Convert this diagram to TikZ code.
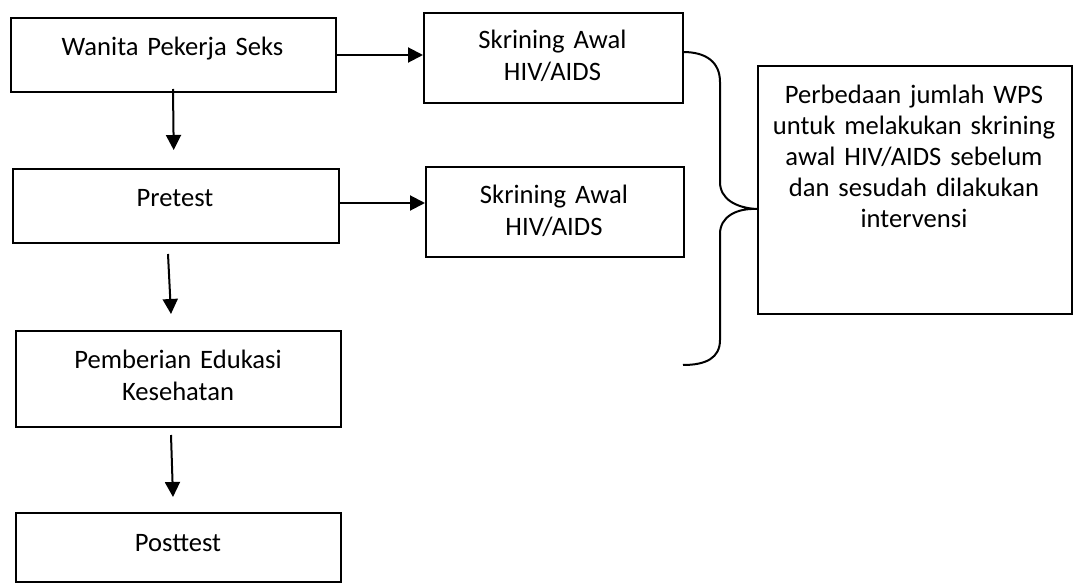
\documentclass[tikz,border=0pt]{standalone}
\usepackage{fontspec}
\setmainfont{Carlito}
\usetikzlibrary{arrows.meta}

\begin{document}
\begin{tikzpicture}[
    x=0.5pt, y=-0.5pt,
    box/.style={draw=black, line width=1pt, anchor=north west, inner sep=0pt},
    txt/.style={align=center, text width=160pt, inner sep=0pt, anchor=base,
        font=\fontsize{13.3pt}{16pt}\selectfont},
    flow/.style={line width=1pt, -{Triangle[length=7.5pt, width=7.5pt]}}
]
    \useasboundingbox (0,0) rectangle (1073,583);
    % boxes
    \node[box, minimum width=162.5pt, minimum height=37pt] (wps) at (10,17) {};
    \node[box, minimum width=129.5pt, minimum height=45pt] (skr1) at (423,12) {};
    \node[box, minimum width=163pt, minimum height=37pt] (pre) at (12,168) {};
    \node[box, minimum width=129pt, minimum height=45pt] (skr2) at (425,166) {};
    \node[box, minimum width=162.5pt, minimum height=48pt] (edu) at (15,330) {};
    \node[box, minimum width=162.5pt, minimum height=34.5pt] (post) at (15,512) {};
    \node[box, minimum width=157pt, minimum height=124pt] (hasil) at (757,65) {};
    % texts
    \node[txt] (wpsT) at (172.5,55.5) {Wanita Pekerja Seks};
    \node[txt] (skr1T) at (552.5,49) {Skrining Awal\\HIV/AIDS};
    \node[txt] (preT) at (175,206.5) {Pretest};
    \node[txt] (skr2T) at (554,204) {Skrining Awal\\HIV/AIDS};
    \node[txt] (eduT) at (178,369) {Pemberian Edukasi\\Kesehatan};
    \node[txt] (postT) at (178,551) {Posttest};
    \node[txt, font=\fontsize{13.3pt}{15.5pt}\selectfont] (hasilT) at (914,104)
        {Perbedaan jumlah WPS\\untuk melakukan skrining\\awal HIV/AIDS sebelum\\dan sesudah dilakukan\\intervensi};
    % arrows
    \coordinate (preOut) at ([yshift=1.5pt]pre.east);
    \draw[flow] (wps.east) -- (wps.east -| skr1.west);
    \draw[flow] (preOut) -- (preOut -| skr2.west);
    \draw[flow] ([xshift=-0.25pt,yshift=2pt]wps.south) -- ([xshift=-1.15pt,yshift=9pt]pre.north);
    \draw[flow] ([xshift=-4pt,yshift=-5pt]pre.south) -- ([xshift=-3.75pt,yshift=8pt]edu.north);
    \draw[flow] ([xshift=-3.75pt,yshift=-3.5pt]edu.south) -- ([xshift=-2.75pt,yshift=7.5pt]post.north);
    % brace
    \coordinate (cusp) at ([yshift=-9.5pt]hasil.west);
    \draw[line width=1pt] (683,52) .. controls (706,52) and (720,62) .. (720,82)
        -- (720,182) .. controls (720,199) and (736,208) .. (cusp)
        .. controls (736,208) and (720,217) .. (720,234)
        -- (720,340) .. controls (720,358) and (706,365) .. (683,365);
\end{tikzpicture}
\end{document}
